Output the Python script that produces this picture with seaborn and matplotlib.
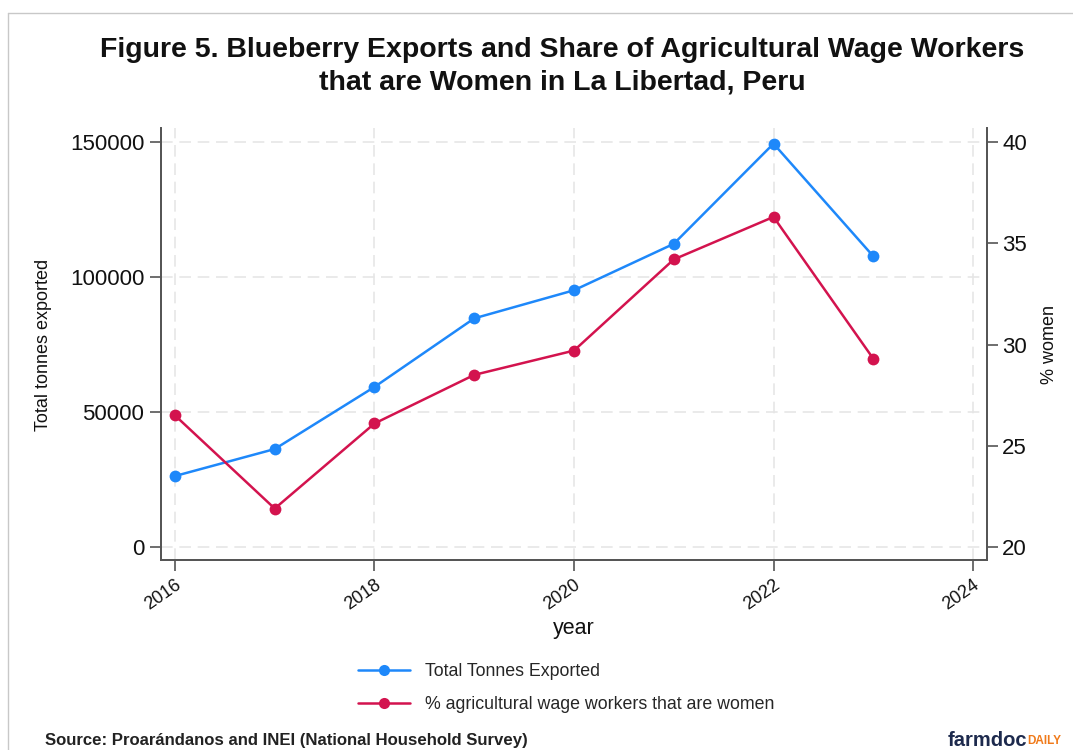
import matplotlib
matplotlib.use("Agg")
import matplotlib.pyplot as plt
from matplotlib.lines import Line2D
import seaborn as sns
import pandas as pd

years = [2016, 2017, 2018, 2019, 2020, 2021, 2022, 2023]
tonnes_exported = [26300, 36300, 59300, 84700, 95100, 112300, 149400, 107700]
pct_women = [26.5, 21.9, 26.1, 28.5, 29.7, 34.2, 36.3, 29.3]
x_ticks = [2016, 2018, 2020, 2022, 2024]
left_ticks = [0, 50000, 100000, 150000]
right_ticks = [20, 25, 30, 35, 40]

BLUE = "#1E88FA"
RED = "#D3134E"

sns.set_theme(style="white")
plt.rcParams["font.family"] = ["Liberation Sans", "DejaVu Sans"]

df = pd.DataFrame({"year": years, "tonnes": tonnes_exported, "pct": pct_women})

fig = plt.figure(figsize=(10.73, 7.5), dpi=100)
ax = fig.add_axes([161/1073, 1-560/750, (987-161)/1073, (560-128)/750])
ax2 = ax.twinx()

sns.lineplot(data=df, x="year", y="tonnes", ax=ax, color=BLUE, marker="o",
             markersize=8.5, markeredgewidth=0, linewidth=1.8, zorder=3)
sns.lineplot(data=df, x="year", y="pct", ax=ax2, color=RED, marker="o",
             markersize=8.5, markeredgewidth=0, linewidth=1.8, zorder=3)

ax.set_xlim(2015.86, 2024.14)
ax.set_ylim(-4800, 155200)
ax2.set_ylim(19.36, 40.69)

ax.set_xticks(x_ticks)
ax.set_yticks(left_ticks)
ax2.set_yticks(right_ticks)
ax.set_yticklabels([str(v) for v in left_ticks], fontsize=16)
ax2.set_yticklabels([str(v) for v in right_ticks], fontsize=16)
ax.set_xticklabels([str(v) for v in x_ticks], fontsize=13, rotation=35, ha="right",
                   rotation_mode="anchor")

ax.grid(True, axis="both", color="#e6e6e6", linestyle=(0, (7, 4)), linewidth=1.2)
ax.set_axisbelow(True)

for a in (ax, ax2):
    a.spines["top"].set_visible(False)
    for s in ("left", "bottom", "right"):
        a.spines[s].set_color("#555555")
        a.spines[s].set_linewidth(1.3)
ax.tick_params(axis="both", direction="out", length=8, width=1.2, color="#555555",
               labelcolor="#111111", pad=4, left=True, bottom=True)
ax2.tick_params(axis="y", direction="out", length=8, width=1.2, color="#555555",
                labelcolor="#111111", pad=3, right=True)

ax.set_xlabel("year", fontsize=15.5, labelpad=3, color="#111111")
ax.set_ylabel("")
ax2.set_ylabel("")
fig.text(44/1073, 1-345/750, "Total tonnes exported", rotation=90, fontsize=13,
         ha="center", va="center", color="#111111")
fig.text(1050/1073, 1-344/750, "% women", rotation=90, fontsize=13,
         ha="center", va="center", color="#111111")

fig.text(562/1073, 1-50/750, "Figure 5. Blueberry Exports and Share of Agricultural Wage Workers",
         fontsize=20.5, fontweight="bold", ha="center", va="center", color="#111111")
fig.text(562/1073, 1-82/750, "that are Women in La Libertad, Peru",
         fontsize=20.5, fontweight="bold", ha="center", va="center", color="#111111")

handles = [Line2D([0], [0], color=BLUE, marker="o", markersize=8, markeredgewidth=0, linewidth=1.8),
           Line2D([0], [0], color=RED, marker="o", markersize=8, markeredgewidth=0, linewidth=1.8)]
labels = ["Total Tonnes Exported", "% agricultural wage workers that are women"]
fig.legend(handles, labels, loc="upper left", bbox_to_anchor=(342/1073, 1-647/750),
           frameon=False, fontsize=12.8, handlelength=2.9, labelspacing=0.92, handletextpad=0.85)

fig.text(45/1073, 1-740/750, "Source: Proarándanos and INEI (National Household Survey)",
         fontsize=12.1, fontweight="bold", ha="left", va="center", color="#222222")
t1 = fig.text(948/1073, 1-740/750, "farmdoc", fontsize=14.5, fontweight="bold",
              ha="left", va="center", color="#1d2a4d")
fig.canvas.draw()
bb = t1.get_window_extent(renderer=fig.canvas.get_renderer())
fig.text(bb.x1 / fig.bbox.width, 1-741/750, "DAILY", fontsize=8.5, fontweight="bold",
         ha="left", va="center", color="#f07a1a")

# frame lines of the original screenshot
fig.add_artist(Line2D([8/1073, 8/1073], [0, 1-13/750], color="#c8c8c8", linewidth=1))
fig.add_artist(Line2D([8/1073, 1], [1-13/750, 1-13/750], color="#c8c8c8", linewidth=1))

fig.savefig("out.png", dpi=100, facecolor="white")
